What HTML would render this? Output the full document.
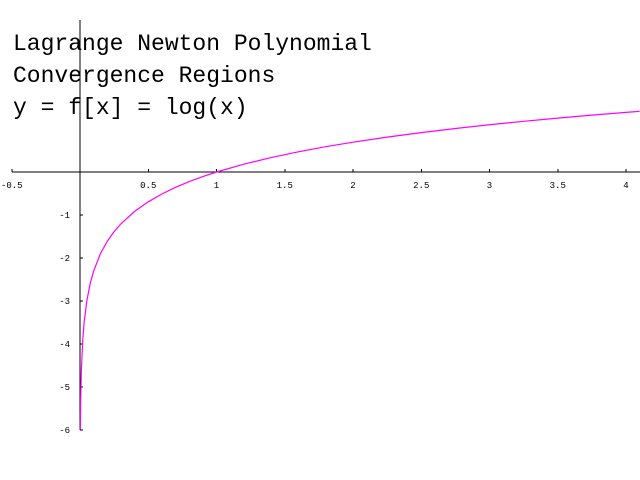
<!DOCTYPE html>
<html><head><meta charset="utf-8"><style>
html,body{margin:0;padding:0;background:#fff;}
svg{display:block;}
.t{font-family:"Liberation Mono",monospace;font-size:23px;fill:#000;}
.k{font-family:"Liberation Mono",monospace;font-size:9px;fill:#000;}
</style></head><body>
<svg id="c" width="640" height="480">
<text class="t" x="13" y="50">Lagrange Newton Polynomial</text>
<text class="t" x="13" y="82">Convergence Regions</text>
<text class="t" x="13" y="114">y = f[x] = log(x)</text>
</svg>
<script>
const xTicks=[-0.5,0.5,1,1.5,2,2.5,3,3.5,4];
const xTickLabels=["-0.5","0.5","1","1.5","2","2.5","3","3.5","4"];
const yTicks=[-1,-2,-3,-4,-5,-6];
const yTickLabels=["-1","-2","-3","-4","-5","-6"];
const xs=[0.0025,0.005,0.01,0.02,0.03,0.05,0.075,0.1,0.15,0.2,0.25,0.3,0.4,0.5,0.6,0.7,0.8,0.9,1,1.2,1.4,1.6,1.8,2,2.25,2.5,2.75,3,3.25,3.5,3.75,4,4.1];
const ys=[-5.991,-5.298,-4.605,-3.912,-3.507,-2.996,-2.590,-2.303,-1.897,-1.609,-1.386,-1.204,-0.916,-0.693,-0.511,-0.357,-0.223,-0.105,0,0.182,0.336,0.470,0.588,0.693,0.811,0.916,1.012,1.099,1.179,1.253,1.322,1.386,1.411];
const NS='http://www.w3.org/2000/svg';
const svg=document.getElementById('c');
const X=v=>80+v*136.5, Y=v=>172-v*43;
function mk(t,a){const e=document.createElementNS(NS,t);for(const k in a)e.setAttribute(k,a[k]);svg.appendChild(e);return e;}
let ax=mk('line',{x1:X(-0.5),x2:640,y1:Y(0),y2:Y(0),stroke:'#000','stroke-width':1,'shape-rendering':'crispEdges'});


let ay=mk('line',{x1:X(0),x2:X(0),y1:20,y2:Y(-6),stroke:'#000','stroke-width':1,'shape-rendering':'crispEdges'});


xTicks.forEach((v,i)=>{
 let l=mk('line',{x1:X(v),x2:X(v),y1:Y(0)-3,y2:Y(0),stroke:'#000','shape-rendering':'crispEdges'});
 
 
 let t=mk('text',{x:X(v),y:Y(0)+16,'text-anchor':'middle',class:'k'});
 t.textContent=xTickLabels[i];
 
 
});
yTicks.forEach((v,i)=>{
 let l=mk('line',{x1:X(0),x2:X(0)+3,y1:Y(v),y2:Y(v),stroke:'#000','shape-rendering':'crispEdges'});
 
 
 let t=mk('text',{x:X(0)-10,y:Y(v)+3,'text-anchor':'end',class:'k'});
 t.textContent=yTickLabels[i];
 
 
});
let p=mk('polyline',{points:xs.map((x,i)=>X(x)+','+Y(ys[i])).join(' '),fill:'none',stroke:'#ff00ff','stroke-width':1.2});


</script>
</body></html>
